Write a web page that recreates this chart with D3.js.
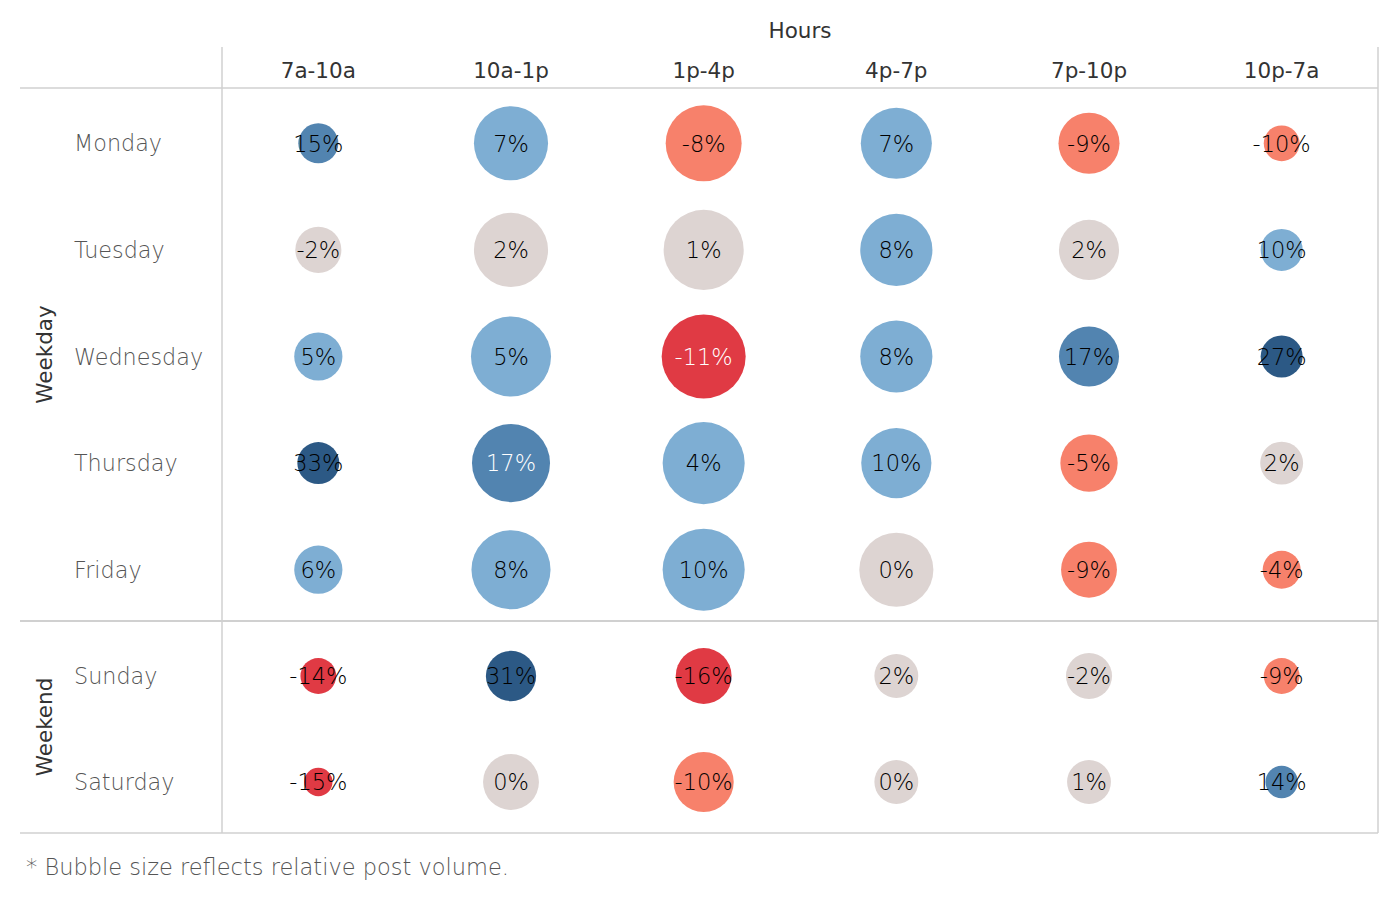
<!DOCTYPE html>
<html>
<head>
<meta charset="utf-8">
<script src="https://cdn.jsdelivr.net/npm/d3@7"></script>
<style>
  html, body { margin: 0; padding: 0; background: #fff; }
  svg { display: block; }
  text { font-family: "DejaVu Sans", "Open Sans", sans-serif; }
</style>
</head>
<body>
<svg id="chart" width="1400" height="900"></svg>
<script>
// ---- data ----
const hours = ["7a-10a", "10a-1p", "1p-4p", "4p-7p", "7p-10p", "10p-7a"];
const days = ["Monday", "Tuesday", "Wednesday", "Thursday", "Friday", "Sunday", "Saturday"];
const dayGroups = ["Weekday", "Weekday", "Weekday", "Weekday", "Weekday", "Weekend", "Weekend"];
const groups = ["Weekday", "Weekend"];

// percent change per day (rows) and hour block (columns)
const changeMonday    = [15, 7, -8, 7, -9, -10];
const changeTuesday   = [-2, 2, 1, 8, 2, 10];
const changeWednesday = [5, 5, -11, 8, 17, 27];
const changeThursday  = [33, 17, 4, 10, -5, 2];
const changeFriday    = [6, 8, 10, 0, -9, -4];
const changeSunday    = [-14, 31, -16, 2, -2, -9];
const changeSaturday  = [-15, 0, -10, 0, 1, 14];

// relative post volume (bubble size)
const volumeMonday    = [40, 137, 144, 126, 93, 32];
const volumeTuesday   = [53, 137, 160, 130, 90, 44];
const volumeWednesday = [58, 160, 176, 130, 90, 44];
const volumeThursday  = [44, 152, 168, 123, 82, 46];
const volumeFriday    = [58, 156, 168, 137, 78, 36];
const volumeSunday    = [32, 63, 78, 48, 53, 32];
const volumeSaturday  = [20, 78, 90, 48, 48, 26];

const changes = [changeMonday, changeTuesday, changeWednesday, changeThursday, changeFriday, changeSunday, changeSaturday];
const volumes = [volumeMonday, volumeTuesday, volumeWednesday, volumeThursday, volumeFriday, volumeSunday, volumeSaturday];

const cells = [];
days.forEach((d, i) => hours.forEach((h, j) => cells.push({day: d, hour: h, change: changes[i][j], volume: volumes[i][j]})));

// ---- layout ----
const svg = d3.select("#chart");
const gLeft = 222, gRight = 1378, gTop = 88, gBottom = 833, gSep = 621;
const gridColor = "#d0d0d0";

const x = d3.scaleBand().domain(hours).range([gLeft, gRight]);
const yWeekday = d3.scaleBand().domain(days.slice(0, 5)).range([gTop, gSep]);
const yWeekend = d3.scaleBand().domain(days.slice(5)).range([gSep, gBottom]);
const y = d => (dayGroups[days.indexOf(d)] === "Weekday" ? yWeekday(d) + yWeekday.bandwidth() / 2 : yWeekend(d) + yWeekend.bandwidth() / 2) + 2;

const r = d3.scaleSqrt().domain([0, d3.max(cells, c => c.volume)]).range([0, 42]);
const color = d3.scaleThreshold()
  .domain([-10.5, -2.5, 2.5, 10.5, 20])
  .range(["#e03a44", "#f7816b", "#ddd4d2", "#7eaed3", "#5284b0", "#2c5985"]);

// grid lines
const lines = [
  [20, gTop, gRight, gTop],
  [20, gSep, gRight, gSep],
  [20, gBottom, gRight, gBottom],
  [gLeft, 47, gLeft, gBottom],
  [gRight, 47, gRight, gBottom]
];
svg.append("g").selectAll("line").data(lines).join("line")
  .attr("x1", d => d[0]).attr("y1", d => d[1]).attr("x2", d => d[2]).attr("y2", d => d[3])
  .attr("stroke", gridColor).attr("stroke-width", (d, i) => i === 1 ? 2 : 1.5);

// titles
svg.append("text").attr("x", 800).attr("y", 38).attr("text-anchor", "middle")
  .attr("font-size", 21.5).attr("fill", "#333").text("Hours");

svg.append("g").selectAll("text").data(hours).join("text")
  .attr("x", d => x(d) + x.bandwidth() / 2).attr("y", 78).attr("text-anchor", "middle")
  .attr("font-size", 21.5).attr("fill", "#333").text(d => d);

svg.append("g").selectAll("text").data(days).join("text")
  .attr("x", 74).attr("y", d => y(d)).attr("dy", "0.36em")
  .attr("font-size", 22.3).attr("font-weight", 200).attr("fill", "#555").text(d => d);

const groupCenter = g => g === "Weekday" ? (gTop + gSep) / 2 : (gSep + gBottom) / 2;
svg.append("g").selectAll("text").data(groups).join("text")
  .attr("transform", d => `translate(44,${groupCenter(d)}) rotate(-90)`)
  .attr("text-anchor", "middle").attr("dy", "0.36em")
  .attr("font-size", 21.5).attr("fill", "#333").text(d => d);

// bubbles
const cellG = svg.append("g").selectAll("g").data(cells).join("g")
  .attr("transform", d => `translate(${x(d.hour) + x.bandwidth() / 2},${y(d.day)})`);
cellG.append("circle").attr("r", d => r(d.volume)).attr("fill", d => color(d.change));
cellG.append("text").attr("text-anchor", "middle").attr("dy", "0.37em")
  .attr("font-size", 22.5).attr("font-weight", 200)
  .attr("fill", d => (Math.abs(d.change) >= 11 && r(d.volume) >= 35) ? "#fff" : "#000")
  .text(d => d.change + "%");

// footnote
svg.append("text").attr("x", 26).attr("y", 875)
  .attr("font-size", 22.5).attr("font-weight", 200).attr("fill", "#555")
  .text("* Bubble size reflects relative post volume.");
</script>
</body>
</html>
